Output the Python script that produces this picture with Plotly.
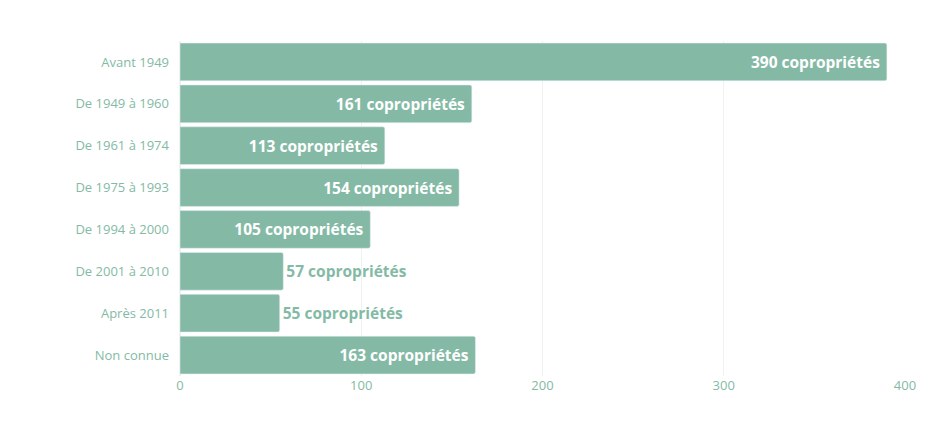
import plotly.graph_objects as go

periodes = ['Avant 1949', 'De 1949 à 1960', 'De 1961 à 1974', 'De 1975 à 1993',
            'De 1994 à 2000', 'De 2001 à 2010', 'Après 2011', 'Non connue']
nb_copro = [390, 161, 113, 154, 105, 57, 55, 163]

vert = '#84baa5'

bars = go.Bar(
    x=nb_copro, y=periodes, orientation='h',
    marker={'color': vert, 'cornerradius': 2},
    texttemplate='%{x} copropriétés ', textposition='auto',
    insidetextanchor='end',
    insidetextfont={'family': 'Open Sans', 'size': 15.5, 'color': 'white', 'weight': 'bold'},
    outsidetextfont={'family': 'Open Sans', 'size': 15.5, 'color': vert, 'weight': 'bold'},
    cliponaxis=False,
)

fig = go.Figure(data=[bars])
fig.update_layout(
    width=935, height=437,
    margin={'l': 172, 'r': 38, 't': 33, 'b': 69},
    plot_bgcolor='white', paper_bgcolor='white',
    bargap=0.1, showlegend=False,
    font={'family': 'Open Sans', 'size': 13, 'color': vert},
)
fig.update_xaxes(range=[0, 400], dtick=100, showgrid=True, gridcolor='#edf3f1',
                 zeroline=True, zerolinecolor='#edf3f1', ticks='', fixedrange=True)
fig.update_yaxes(autorange='reversed', showgrid=False, ticks='', ticklabelstandoff=10)
fig.write_html("out.html")
